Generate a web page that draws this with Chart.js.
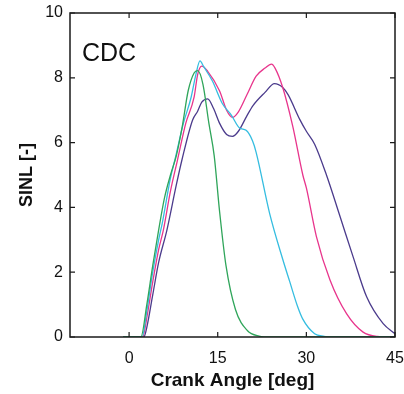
<!DOCTYPE html>
<html>
<head>
<meta charset="utf-8">
<script src="https://cdn.jsdelivr.net/npm/chart.js@4"></script>
<style>
  body { margin: 0; background: #fff; }
  canvas { display: block; }
</style>
</head>
<body>
<canvas id="sinlChart" width="404" height="394"></canvas>
<script>
// Werte (Kurbelwinkel in deg, SINL in [-])
const xTicks = [0, 15, 30, 45];
const yTicks = [0, 2, 4, 6, 8, 10];

const greenX = [-1, 2, 3, 4, 5, 6, 7, 8, 9, 10, 11, 11.6, 12.5, 13.5, 14.4, 15.3, 16.4, 18, 20, 22, 24, 45];
const greenY = [0, 0, 1.0, 2.2, 3.3, 4.3, 5.0, 5.6, 6.5, 7.6, 8.15, 8.22, 7.8, 6.6, 5.6, 3.9, 2.2, 0.85, 0.2, 0.03, 0, 0];

const cyanX = [-1, 2.2, 3, 4, 5, 5.6, 7, 7.75, 9.2, 10.5, 11.3, 12.0, 12.6, 14.1, 15.8, 17.3, 18.7, 19.8, 20.9, 21.5, 23.8, 26, 27.2, 28.5, 29.4, 31.4, 33, 34, 45];
const cyanY = [0, 0, 0.8, 2.0, 3.0, 3.5, 4.9, 5.47, 6.6, 7.4, 8.1, 8.52, 8.35, 7.9, 7.2, 6.85, 6.45, 6.38, 6.05, 5.7, 3.8, 2.4, 1.7, 0.95, 0.55, 0.1, 0.02, 0, 0];

const pinkX = [-1, 2.3, 3, 4, 5, 5.8, 7, 8.2, 9.6, 11.0, 11.6, 12.3, 13.3, 15.3, 16.5, 17.5, 18.5, 20, 21.5, 23, 24.1, 24.7, 26, 27.7, 29.4, 30, 31.7, 34, 36.8, 39.6, 42, 45];
const pinkY = [0, 0, 0.6, 1.7, 2.7, 3.3, 4.5, 5.47, 6.6, 7.4, 8.1, 8.36, 8.2, 7.6, 7.0, 6.78, 6.95, 7.5, 8.05, 8.3, 8.42, 8.3, 7.7, 6.5, 5.0, 4.6, 3.1, 1.76, 0.72, 0.15, 0.02, 0];

const purpleX = [-1, 2.5, 3, 4, 5, 6.4, 8, 8.95, 10.75, 11.6, 12.3, 13.3, 14.3, 15.3, 16.5, 17.5, 18.5, 20, 21, 23, 24.6, 26, 26.9, 28.9, 30, 31.4, 33.4, 35.7, 37.9, 40.2, 43, 45];
const purpleY = [0, 0, 0.3, 1.3, 2.3, 3.3, 4.7, 5.47, 6.7, 6.97, 7.25, 7.35, 7.05, 6.6, 6.25, 6.19, 6.35, 6.85, 7.15, 7.55, 7.82, 7.7, 7.48, 6.71, 6.35, 5.95, 5.0, 3.72, 2.48, 1.24, 0.41, 0.1];

function toPoints(xs, ys) {
    return xs.map((x, i) => ({ x: x, y: ys[i] }));
}

function makeLine(xs, ys, color) {
    return {
        data: toPoints(xs, ys),
        borderColor: color,
        borderWidth: 1.3,
        pointRadius: 0,
        showLine: true,
        fill: false,
        cubicInterpolationMode: 'monotone'
    };
}

// Rahmen, Ticks nach innen und "CDC" Beschriftung
const framePlugin = {
    id: 'frame',
    afterDraw(chart) {
        const ctx = chart.ctx;
        const a = chart.chartArea;
        const xs = chart.scales.x;
        const ys = chart.scales.y;
        ctx.save();
        ctx.strokeStyle = '#1a1a1a';
        ctx.lineWidth = 1.5;
        ctx.strokeRect(a.left, a.top, a.right - a.left, a.bottom - a.top);
        ctx.lineWidth = 1.2;
        ctx.beginPath();
        xTicks.forEach(v => {
            const px = xs.getPixelForValue(v);
            ctx.moveTo(px, a.bottom); ctx.lineTo(px, a.bottom - 5);
            ctx.moveTo(px, a.top); ctx.lineTo(px, a.top + 5);
        });
        yTicks.forEach(v => {
            const py = ys.getPixelForValue(v);
            ctx.moveTo(a.left, py); ctx.lineTo(a.left + 5, py);
            ctx.moveTo(a.right, py); ctx.lineTo(a.right - 5, py);
        });
        ctx.stroke();
        ctx.fillStyle = '#111';
        ctx.font = '25px "Liberation Sans", Arial, sans-serif';
        ctx.textBaseline = 'alphabetic';
        ctx.fillText('CDC', a.left + 12, a.top + 48);
        ctx.restore();
    }
};

const ctx = document.getElementById('sinlChart').getContext('2d');
new Chart(ctx, {
    type: 'scatter',
    data: {
        datasets: [
            makeLine(greenX, greenY, '#2fa55a'),
            makeLine(cyanX, cyanY, '#35bde0'),
            makeLine(pinkX, pinkY, '#e8358c'),
            makeLine(purpleX, purpleY, '#4b3b8c')
        ]
    },
    options: {
        responsive: false,
        animation: false,
        layout: { padding: { left: 0, right: 9, top: 13, bottom: 0 } },
        plugins: {
            legend: { display: false },
            tooltip: { enabled: false }
        },
        scales: {
            x: {
                type: 'linear',
                min: -10,
                max: 45,
                afterBuildTicks: scale => { scale.ticks = xTicks.map(v => ({ value: v })); },
                afterFit: scale => {
                    scale.height = 57;
                    scale.paddingLeft = 0;
                    scale.paddingRight = 0;
                },
                grid: { display: false, drawTicks: false },
                border: { display: false },
                ticks: {
                    padding: 12,
                    color: '#111',
                    maxRotation: 0,
                    font: { family: '"Liberation Sans", Arial, sans-serif', size: 16 }
                },
                title: {
                    display: true,
                    text: 'Crank Angle [deg]',
                    color: '#111',
                    padding: { top: 0, bottom: 2 },
                    font: { family: '"Liberation Sans", Arial, sans-serif', size: 19, weight: 'bold' }
                }
            },
            y: {
                min: 0,
                max: 10,
                afterBuildTicks: scale => { scale.ticks = yTicks.map(v => ({ value: v })); },
                afterFit: scale => {
                    scale.width = 70;
                    scale.paddingTop = 0;
                    scale.paddingBottom = 0;
                },
                grid: { display: false, drawTicks: false },
                border: { display: false },
                ticks: {
                    padding: 7,
                    color: '#111',
                    font: { family: '"Liberation Sans", Arial, sans-serif', size: 16 }
                },
                title: {
                    display: true,
                    text: 'SINL [-]',
                    color: '#111',
                    padding: { top: 16, bottom: 0 },
                    font: { family: '"Liberation Sans", Arial, sans-serif', size: 18, weight: 'bold' }
                }
            }
        }
    },
    plugins: [framePlugin]
});
</script>
</body>
</html>
